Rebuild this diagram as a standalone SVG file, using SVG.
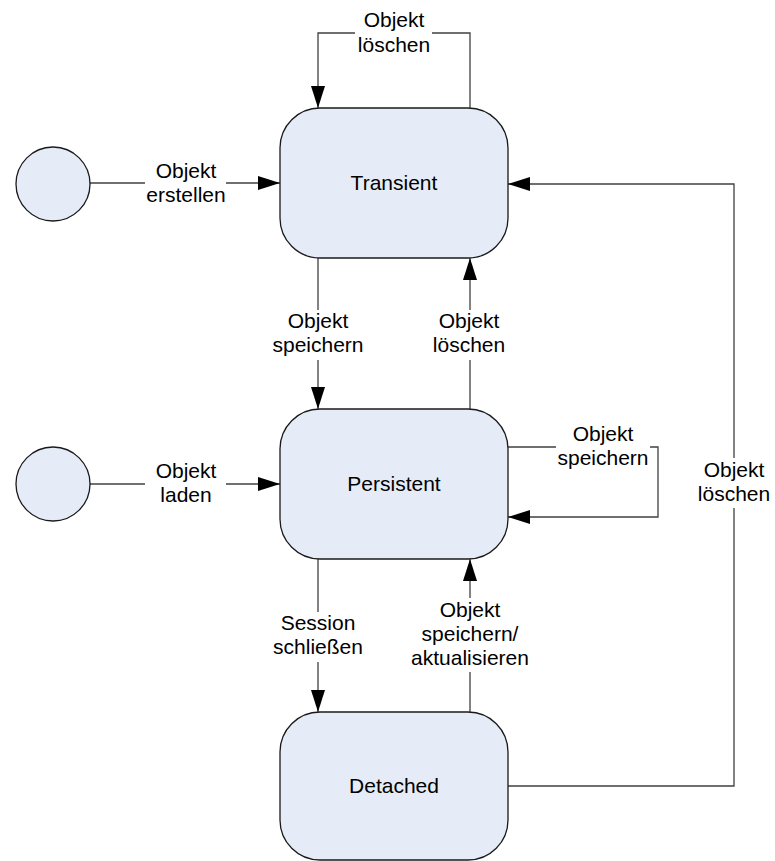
<svg xmlns="http://www.w3.org/2000/svg" width="775" height="861" viewBox="0 0 775 861">
  <style>
    .state { fill: #e6ecf7; stroke: #1a1a1a; stroke-width: 1.3; }
    .start { fill: #e6ecf7; stroke: #1a1a1a; stroke-width: 1.3; }
    .edge { fill: none; stroke: #404040; stroke-width: 1.3; }
    .gap { fill: #ffffff; stroke: none; }
    text { font-family: "Liberation Sans", Arial, sans-serif; font-size: 21px; fill: #000; text-anchor: middle; }
  </style>
  <defs>
    <marker id="arrow" markerWidth="22" markerHeight="14" refX="22" refY="7" orient="auto" markerUnits="userSpaceOnUse">
      <path d="M0,0 L22,7 L0,14 Z" fill="#000"/>
    </marker>
  </defs>
  <rect width="775" height="861" fill="#ffffff"/>

  <!-- transitions -->
  <g id="connectors">
    <!-- Transient self loop -->
    <path class="edge" d="M470,108 V33 H318 V108" marker-end="url(#arrow)"/>
    <rect class="gap" x="355" y="10" width="77" height="48"/>
    <text x="394" y="27">Objekt</text>
    <text x="394" y="52">löschen</text>

    <!-- initial -> Transient -->
    <path class="edge" d="M90,183 H280" marker-end="url(#arrow)"/>
    <rect class="gap" x="145" y="160" width="81" height="48"/>
    <text x="186" y="178">Objekt</text>
    <text x="186" y="202">erstellen</text>

    <!-- Transient -> Persistent -->
    <path class="edge" d="M318,258 V409" marker-end="url(#arrow)"/>
    <rect class="gap" x="270" y="310" width="96" height="50"/>
    <text x="318" y="328">Objekt</text>
    <text x="318" y="352">speichern</text>

    <!-- Persistent -> Transient -->
    <path class="edge" d="M470,409 V258" marker-end="url(#arrow)"/>
    <rect class="gap" x="432" y="310" width="76" height="50"/>
    <text x="469" y="328">Objekt</text>
    <text x="469" y="352">löschen</text>

    <!-- initial -> Persistent -->
    <path class="edge" d="M90,484 H280" marker-end="url(#arrow)"/>
    <rect class="gap" x="145" y="460" width="81" height="48"/>
    <text x="186" y="478">Objekt</text>
    <text x="186" y="502">laden</text>

    <!-- Persistent self loop -->
    <path class="edge" d="M508,447 H658 V517 H508" marker-end="url(#arrow)"/>
    <rect class="gap" x="556" y="425" width="94" height="46"/>
    <text x="603" y="441">Objekt</text>
    <text x="603" y="465">speichern</text>

    <!-- Persistent -> Detached -->
    <path class="edge" d="M318,559 V712" marker-end="url(#arrow)"/>
    <rect class="gap" x="272" y="612" width="92" height="50"/>
    <text x="318" y="630">Session</text>
    <text x="318" y="654">schließen</text>

    <!-- Detached -> Persistent -->
    <path class="edge" d="M470,712 V559" marker-end="url(#arrow)"/>
    <rect class="gap" x="412" y="598" width="116" height="74"/>
    <text x="470" y="617">Objekt</text>
    <text x="470" y="641">speichern/</text>
    <text x="470" y="665">aktualisieren</text>

    <!-- Detached -> Transient -->
    <path class="edge" d="M508,786 H734 V184 H508" marker-end="url(#arrow)"/>
    <rect class="gap" x="696" y="458" width="76" height="50"/>
    <text x="734" y="477">Objekt</text>
    <text x="734" y="501">löschen</text>
  </g>

  <!-- states -->
  <g id="initial-create">
    <circle class="start" cx="53" cy="184" r="37"/>
  </g>
  <g id="initial-load">
    <circle class="start" cx="53" cy="484" r="37"/>
  </g>
  <g id="transient">
    <rect class="state" x="280" y="108" width="228" height="150" rx="40" ry="40"/>
    <text x="394" y="190">Transient</text>
  </g>
  <g id="persistent">
    <rect class="state" x="280" y="409" width="228" height="150" rx="40" ry="40"/>
    <text x="394" y="491">Persistent</text>
  </g>
  <g id="detached">
    <rect class="state" x="280" y="712" width="228" height="148" rx="40" ry="40"/>
    <text x="394" y="793">Detached</text>
  </g>
</svg>
